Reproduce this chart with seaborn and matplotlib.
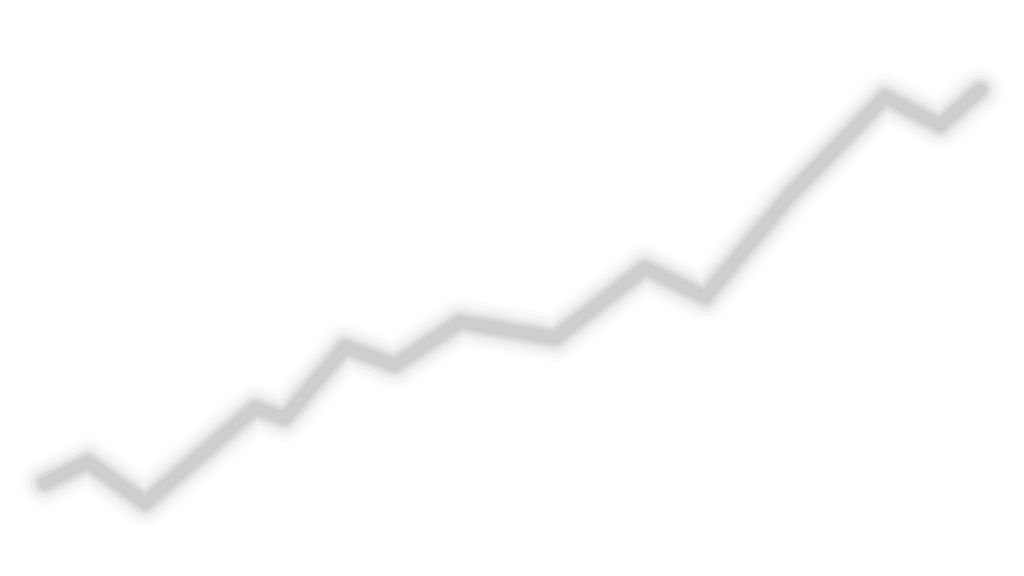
import pandas as pd
import matplotlib
matplotlib.use('Agg')
import matplotlib.pyplot as plt
import seaborn as sns

# Values (x position, level)
x_vals = [45, 88, 145, 255, 285, 345, 395, 460, 555, 645, 705, 790, 885, 940, 980]
y_vals = [93, 114, 73, 168, 158, 229, 211, 254, 238, 308, 279, 381, 479, 451, 486]

df = pd.DataFrame({'x': x_vals, 'y': y_vals})

sns.set_style('white')
fig = plt.figure(figsize=(10.24, 5.76), dpi=100)
ax = fig.add_axes([0, 0, 1, 1])

# soft edges: stack wider, fainter lines under the main stroke
for lw, alpha in [(34, 0.05), (28, 0.08), (22, 0.12), (17, 0.22), (13, 0.35), (9, 0.5)]:
    sns.lineplot(data=df, x='x', y='y', ax=ax, color='#c4c4c4', linewidth=lw,
                 alpha=alpha, sort=False, solid_capstyle='round', solid_joinstyle='round')

ax.set_xlim(0, 1024)
ax.set_ylim(0, 576)
ax.axis('off')
fig.savefig('out.png', dpi=100, facecolor='white')
